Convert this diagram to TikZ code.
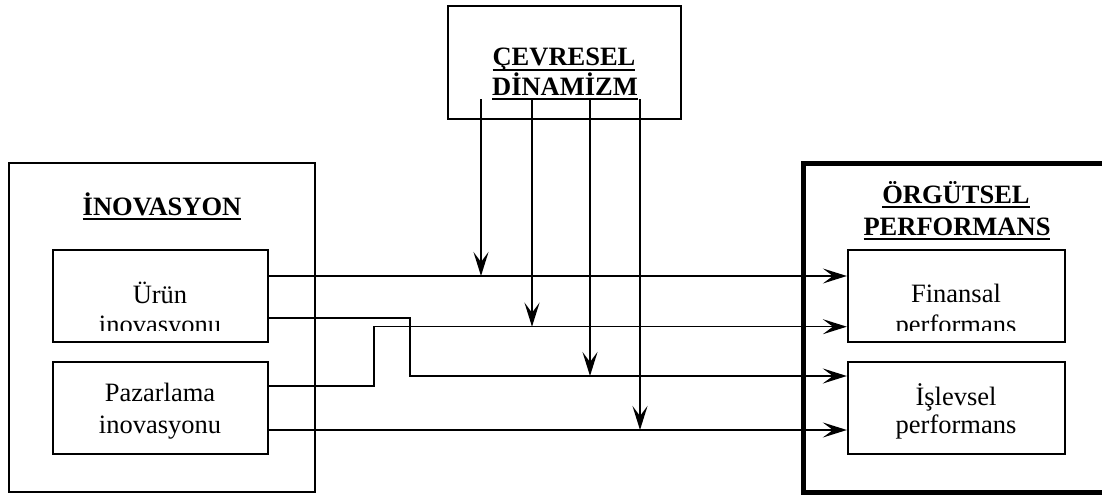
\documentclass[tikz,border=0pt]{standalone}
\usepackage{fontspec}
\setmainfont{Liberation Serif}
\usetikzlibrary{arrows.meta}
\newsavebox{\myulsave}
\newcommand{\myul}[1]{\sbox{\myulsave}{#1}\rlap{\rule[-5pt]{\wd\myulsave}{2.2pt}}\usebox{\myulsave}}
\tikzset{
  box/.style={draw, line width=2.3pt, inner sep=0pt},
  smallbox/.style={box, minimum width=215pt, minimum height=92pt},
  txt/.style={inner sep=0pt, anchor=base, font=\fontsize{26.5}{31}\selectfont},
  hdr/.style={inner sep=0pt, anchor=base, font=\fontsize{26.5}{31}\selectfont\bfseries},
  tip/.style={-{Stealth[length=24pt,width=15pt,inset=10pt]}},
  thinline/.style={line width=1.5pt},
  thickline/.style={line width=2.4pt},
}
\begin{document}
\begin{tikzpicture}[x=1pt,y=-1pt]
\useasboundingbox (0,0) rectangle (1102,495);
% boxes
\node[box, minimum width=233pt, minimum height=113pt] (cev) at (564.5,62.5) {};
\node[box, minimum width=306pt, minimum height=329pt] (inov) at (162,327.5) {};
\node[box, line width=5pt, minimum width=304pt, minimum height=329pt] (org) at (955,327.5) {};
\node[smallbox] (urun) at (160.5,296) {};
\node[smallbox] (paz) at (160.5,408) {};
\node[smallbox, minimum width=217pt] (fin) at (956.5,296) {};
\node[smallbox, minimum width=217pt] (isl) at (956.5,408) {};
% headers
\node[hdr] (cev1) at (564,66) {\myul{ÇEVRESEL}};
\node[hdr] (cev2) at (565,95) {\myul{DİNAMİZM}};
\node[hdr] (inovT) at (162,215) {\myul{İNOVASYON}};
\node[hdr] (org1) at (956,203) {\myul{ÖRGÜTSEL}};
\node[hdr] (org2) at (957,235) {\myul{PERFORMANS}};
% texts
\node[txt] (u1) at (160,303) {Ürün};
\begin{scope}
  \clip (53,250) rectangle (268,330.5);
  \node[txt] (u2) at (160,333) {inovasyonu};
\end{scope}
\node[txt] (p1) at (160,401) {Pazarlama};
\node[txt] (p2) at (160,433) {inovasyonu};
\node[txt] (f1) at (956,302) {Finansal};
\begin{scope}
  \clip (848,250) rectangle (1065,330.5);
  \node[txt] (f2) at (956,333) {performans};
\end{scope}
\node[txt] (i1) at (956,405) {İşlevsel};
\node[txt] (i2) at (956,433) {performans};
% bend points
\coordinate (b2) at (410,376);
\coordinate (b3) at (374,326.7);
% horizontal connectors
\draw[thinline, tip] ([yshift=20pt]urun.east) -- ([yshift=20pt]fin.west);
\draw[thickline, tip] ([yshift=-22pt]urun.east) -| (b2) |- ([yshift=32pt]isl.west);
\draw[thinline, tip] ([yshift=22pt]paz.east) -| (b3) |- ([yshift=-30.7pt]fin.west);
\draw[line width=2.1pt, tip] ([yshift=-22pt]paz.east) -- ([yshift=-22pt]isl.west);
% vertical moderator arrows
\coordinate (v1s) at (481,99);  \coordinate (v1e) at (481,276);
\coordinate (v2s) at (532,99);  \coordinate (v2e) at (532,326.7);
\coordinate (v3s) at (590,99);  \coordinate (v3e) at (590,376);
\coordinate (v4s) at (640,99);  \coordinate (v4e) at (640,430);
\draw[thickline, tip] (v1s) -- (v1e);
\draw[thickline, tip] (v2s) -- (v2e);
\draw[thickline, tip] (v3s) -- (v3e);
\draw[thickline, tip] (v4s) -- (v4e);
\end{tikzpicture}
\end{document}
